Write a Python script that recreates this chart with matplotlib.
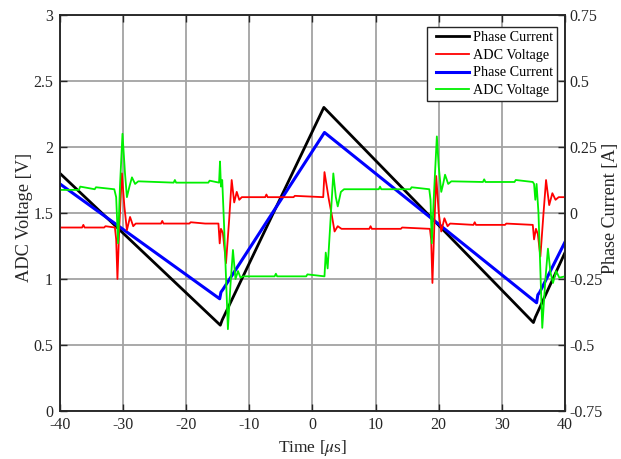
import numpy as np
import matplotlib
matplotlib.use("Agg")
import matplotlib.pyplot as plt
from matplotlib.lines import Line2D
from matplotlib.legend_handler import HandlerLine2D

plt.rcParams["font.family"] = ["Liberation Serif", "DejaVu Serif"]
plt.rcParams["mathtext.fontset"] = "stix"

C_TEXT, C_GRID = "#262626", "#a3a3a3"
C_PC1, C_ADC1, C_PC2, C_ADC2 = "#000000", "#ff0000", "#0000ff", "#00f000"

# time axis in microseconds, currents in A (right axis), ADC in V (left axis)
pc1_t = [-40, -14.6, -14.3, 1.8, 35.0, 35.3, 40]
pc1_i = [0.15, -0.425, -0.405, 0.40, -0.415, -0.395, -0.15]

pc2_t = [-40, -14.7, -14.5, -14.2, 1.9, 35.5, 35.7, 36.0, 40]
pc2_i = [0.11, -0.325, -0.30, -0.29, 0.305, -0.34, -0.31, -0.30, -0.11]

adc1_t = [-40, -36.5, -36.3, -36.1, -33.0, -32.8, -31.3, -31.1, -30.9, -30.6,
          -30.2, -29.8, -29.4, -28.9, -28.4, -28.0, -24.0, -23.8, -23.6, -19.5,
          -19.3, -17.0, -14.9, -14.7, -14.5, -14.2, -13.7, -13.2, -12.8, -12.4,
          -12.0, -11.6, -11.2, -7.5, -7.3, -7.1, -3.0, -2.8, 1.7, 1.9, 2.2,
          2.6, 3.0, 3.5, 4.0, 4.6, 9.0, 9.2, 9.4, 14.0, 14.2, 18.6, 18.8, 19.0,
          19.3, 19.6, 20.0, 20.4, 20.9, 21.4, 21.8, 25.5, 25.7, 25.9, 30.5,
          30.7, 34.9, 35.1, 35.4, 35.7, 36.1, 36.6, 37.0, 37.5, 38.0, 38.5,
          39.0, 40]
adc1_v = [1.39, 1.39, 1.41, 1.39, 1.39, 1.40, 1.39, 1.30, 1.00, 1.40,
          1.80, 1.55, 1.37, 1.47, 1.40, 1.42, 1.42, 1.44, 1.42, 1.42,
          1.43, 1.42, 1.42, 1.27, 1.38, 1.35, 1.12, 1.45, 1.75, 1.58,
          1.66, 1.60, 1.62, 1.62, 1.64, 1.62, 1.62, 1.63, 1.62, 1.81, 1.72,
          1.60, 1.50, 1.36, 1.40, 1.38, 1.38, 1.40, 1.38, 1.38, 1.39, 1.38, 1.30, 0.97,
          1.40, 1.78, 1.50, 1.36, 1.46, 1.40, 1.42, 1.41, 1.43, 1.41, 1.41,
          1.42, 1.41, 1.30, 1.38, 1.34, 1.17, 1.50, 1.75, 1.56, 1.65, 1.60,
          1.62, 1.62]

adc2_t = [-40, -37.0, -36.8, -34.5, -34.3, -31.4, -31.1, -30.8, -30.5, -30.1,
          -29.7, -29.4, -29.0, -28.6, -28.1, -27.6, -22.0, -21.8, -21.6, -16.5,
          -16.3, -14.8, -14.65, -14.5, -14.3, -14.0, -13.4, -13.0, -12.6,
          -12.2, -11.8, -11.4, -11.0, -6.0, -5.8, -5.6, -1.0, -0.8, 1.9, 2.1,
          2.4, 2.8, 3.3, 3.7, 4.0, 4.5, 5.0, 10.5, 10.7, 10.9, 15.5, 15.7,
          18.5, 18.7, 18.9, 19.2, 19.7, 20.0, 20.4, 20.7, 21.0, 21.5, 22.0,
          27.0, 27.2, 27.4, 32.0, 32.2, 34.9, 35.1, 35.3, 35.5, 35.8, 36.4,
          36.9, 37.3, 37.7, 38.1, 38.6, 39.1, 40]
adc2_v = [1.675, 1.675, 1.70, 1.68, 1.695, 1.68, 1.62, 1.27, 1.70, 2.10,
          1.80, 1.62, 1.70, 1.77, 1.72, 1.74, 1.73, 1.75, 1.73, 1.73,
          1.745, 1.73, 1.89, 1.70, 1.75, 1.40, 0.62, 0.95, 1.22,
          1.00, 1.06, 1.01, 1.02, 1.02, 1.04, 1.02, 1.02, 1.035, 1.02, 1.20,
          1.08, 1.40, 1.80, 1.62, 1.55, 1.66, 1.68, 1.68, 1.70, 1.68, 1.68, 1.695,
          1.68, 1.60, 1.27, 1.60, 2.08, 1.85, 1.66, 1.72, 1.79, 1.72, 1.74,
          1.735, 1.755, 1.735, 1.735, 1.75, 1.735, 1.72, 1.60, 1.72, 1.50, 0.63,
          1.00, 1.23, 1.05, 0.97, 1.06, 1.01, 1.02]

x_ticks = [-40, -30, -20, -10, 0, 10, 20, 30, 40]
v_ticks = [0, 0.5, 1, 1.5, 2, 2.5, 3]
i_ticks = [-0.75, -0.5, -0.25, 0, 0.25, 0.5, 0.75]

fig = plt.figure(figsize=(6.21, 4.59), dpi=100)
ax = fig.add_axes([0.0966, 0.1046, 0.8132, 0.8627])
ax2 = ax.twinx()
# voltage axes drawn above the current axes, grid lives on the lower one
ax.set_zorder(ax2.get_zorder() + 1)
ax.patch.set_visible(False)
ax2.xaxis.set_visible(True)

h1, = ax2.plot(pc1_t, pc1_i, color=C_PC1, lw=2.0, label="Phase Current")
h3, = ax2.plot(pc2_t, pc2_i, color=C_PC2, lw=2.2, label="Phase Current")
h2, = ax.plot(adc1_t, adc1_v, color=C_ADC1, lw=1.3, label="ADC Voltage")
h4, = ax.plot(adc2_t, adc2_v, color=C_ADC2, lw=1.3, label="ADC Voltage")

ax.set_xlim(-40, 40)
ax.set_ylim(0, 3)
ax2.set_ylim(-0.75, 0.75)
ax.set_xticks(x_ticks)
ax.set_xticklabels([f"{v:g}" for v in x_ticks])
ax.set_yticks(v_ticks)
ax.set_yticklabels([f"{v:g}" for v in v_ticks])
ax2.set_yticks(i_ticks)
ax2.set_yticklabels([f"{v:g}" for v in i_ticks])
ax2.set_xticks(x_ticks)

ax2.grid(True, color=C_GRID, lw=1.3)
ax2.tick_params(axis="x", length=0, labelbottom=False)
ax.tick_params(axis="x", direction="in", length=5, width=1, top=True,
               colors=C_TEXT, labelsize=11.5, pad=4)
ax.tick_params(axis="y", direction="in", length=5, width=1, right=False,
               colors=C_TEXT, labelsize=11.5, pad=5)
ax2.tick_params(axis="y", direction="in", length=5, width=1,
                colors=C_TEXT, labelsize=11.5, pad=3)
for a in (ax, ax2):
    for s in a.spines.values():
        s.set_color(C_TEXT)
        s.set_linewidth(1.1)

ax.set_xlabel("Time [$\\mu$s]", fontsize=12.5, color=C_TEXT, labelpad=4)
ax.set_ylabel("ADC Voltage [V]", fontsize=13.2, color=C_TEXT,
              ha="center", va="center")
ax2.set_ylabel("Phase Current [A]", fontsize=13, color=C_TEXT,
               rotation=90, ha="center", va="center")
ax.yaxis.set_label_coords(-0.071, 0.49)
ax2.yaxis.set_label_coords(1.091, 0.512)

leg = ax.legend(handles=[h1, h2, h3, h4], loc="upper right",
                bbox_to_anchor=(0.984, 0.970), borderaxespad=0, fontsize=10.2,
                fancybox=False, framealpha=1, edgecolor="#262626",
                handlelength=2.7, handletextpad=0.25, labelspacing=0.33,
                borderpad=0.3,
                handler_map={Line2D: HandlerLine2D(xpad=0.35)})
leg.get_frame().set_linewidth(1.0)

fig.savefig("out.png", dpi=100, facecolor="white")
